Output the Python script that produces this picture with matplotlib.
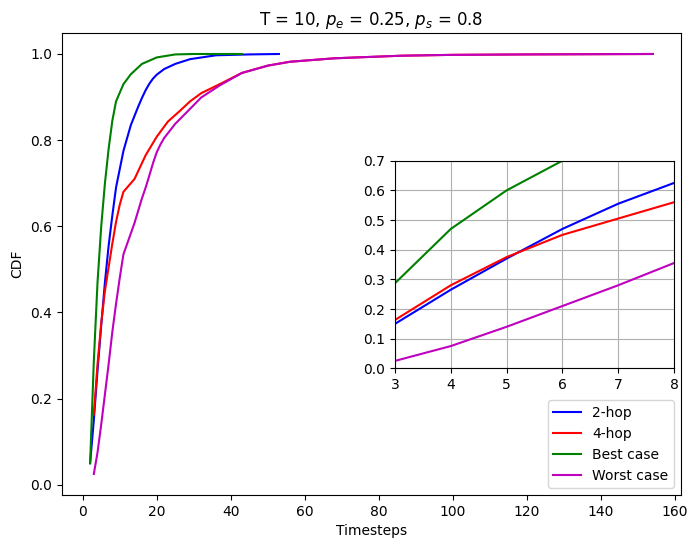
import matplotlib
matplotlib.use("Agg")
import matplotlib.pyplot as plt

# 2-hop
x_2hop = [2, 3, 4, 5, 6, 7, 8, 9, 11, 13, 15, 16, 17, 18, 19, 20, 22, 25, 29, 36,
          45, 53]
y_2hop = [0.05, 0.15, 0.265, 0.37, 0.47, 0.555, 0.625, 0.69, 0.775, 0.835, 0.878,
          0.898, 0.916, 0.931, 0.943, 0.952, 0.965, 0.977, 0.988, 0.997, 0.999, 1.0]

# 4-hop
x_4hop = [3, 4, 5, 6, 7, 8, 9, 10, 11, 14, 17, 20, 23, 26, 29, 32, 37, 43, 50, 56,
          68, 86, 100, 120, 154]
y_4hop = [0.163, 0.28, 0.375, 0.45, 0.505, 0.56, 0.61, 0.65, 0.68, 0.71, 0.765,
          0.808, 0.843, 0.866, 0.89, 0.909, 0.93, 0.956, 0.973, 0.982, 0.99, 0.996,
          0.998, 0.999, 1.0]

# Best case
x_best = [2, 3, 4, 5, 6, 7, 8, 9, 11, 13, 16, 20, 25, 30, 43]
y_best = [0.05, 0.287, 0.47, 0.60, 0.70, 0.78, 0.845, 0.89, 0.93, 0.953, 0.977,
          0.992, 0.999, 1.0, 1.0]

# Worst case
x_worst = [3, 4, 5, 6, 7, 8, 9, 10, 11, 14, 16, 17, 18, 19, 20, 21, 22, 25, 28, 32,
           37, 43, 50, 56, 68, 86, 100, 120, 154]
y_worst = [0.025, 0.075, 0.14, 0.21, 0.28, 0.355, 0.42, 0.48, 0.535, 0.608, 0.665,
           0.69, 0.718, 0.747, 0.772, 0.79, 0.805, 0.838, 0.864, 0.899, 0.927, 0.956,
           0.973, 0.982, 0.99, 0.996, 0.998, 0.999, 1.0]

labels = ["2-hop", "4-hop", "Best case", "Worst case"]
colors = ["b", "r", "g", "m"]
series = [(x_2hop, y_2hop), (x_4hop, y_4hop), (x_best, y_best), (x_worst, y_worst)]

fig = plt.figure(figsize=(6.98, 5.48), dpi=100)
ax = fig.add_axes([0.0888, 0.0967, 0.8868, 0.8431])
for (xs, ys), lab, c in zip(series, labels, colors):
    ax.plot(xs, ys, color=c, label=lab)
ax.set_title("T = 10, $p_e$ = 0.25, $p_s$ = 0.8")
ax.set_xlabel("Timesteps")
ax.set_ylabel("CDF")
ax.legend(loc="lower right")

ins = fig.add_axes([0.5659, 0.3279, 0.3997, 0.3788])
for (xs, ys), lab, c in zip(series, labels, colors):
    ins.plot(xs, ys, color=c)
ins.set_xlim(3, 8)
ins.set_ylim(0, 0.7)
ins.grid(True)

fig.savefig("out.png", dpi=100)
